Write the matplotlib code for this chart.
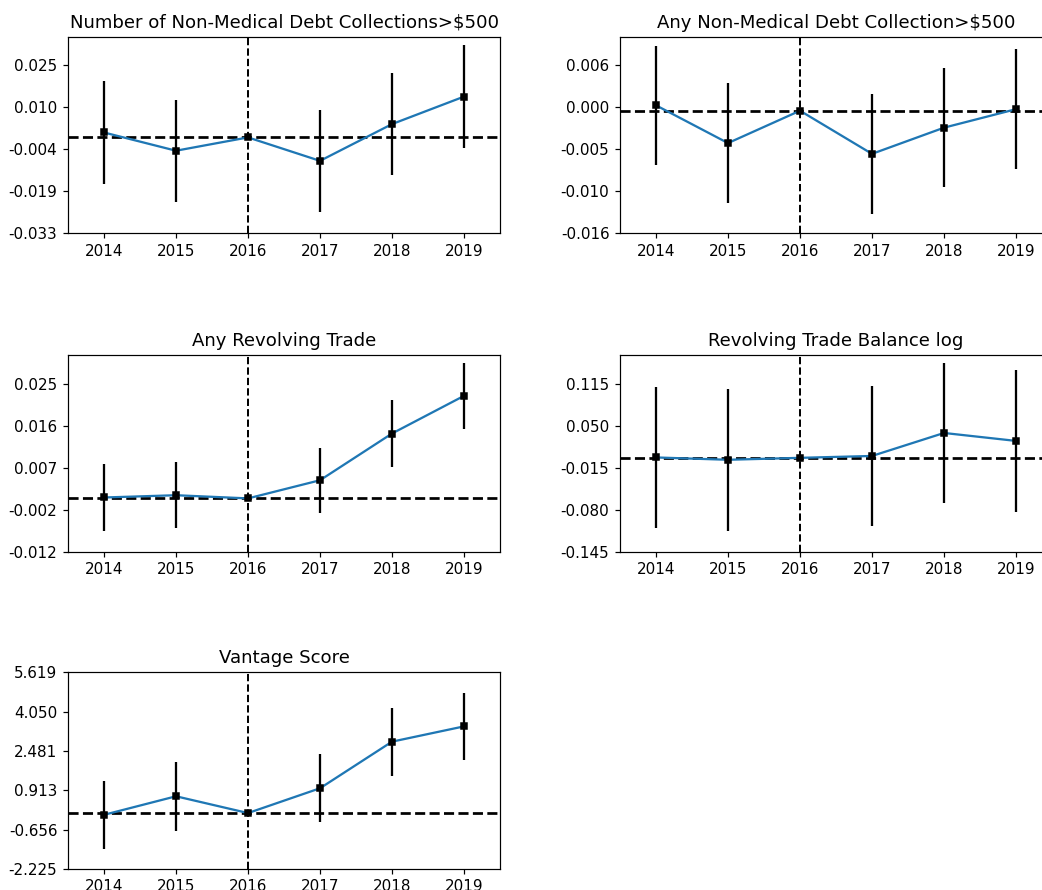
import numpy as np
import matplotlib.pyplot as plt

years = [2014, 2015, 2016, 2017, 2018, 2019]
base_year = 2016

titles = [
    "Number of Non-Medical Debt Collections>$500",
    "Any Non-Medical Debt Collection>$500",
    "Any Revolving Trade",
    "Revolving Trade Balance log",
    "Vantage Score",
]

# event-study coefficients and half-width of the confidence interval
coef_collections_n = [0.0017, -0.0046, 0.0, -0.0081, 0.0046, 0.0141]
err_collections_n = [0.0177, 0.0176, 0.0, 0.0177, 0.0175, 0.0177]

coef_collections_any = [0.0007, -0.0042, 0.0, -0.0056, -0.0022, 0.0002]
err_collections_any = [0.0077, 0.0078, 0.0, 0.0078, 0.0077, 0.0078]

coef_revolving_any = [0.0002, 0.0007, 0.0, 0.0040, 0.0143, 0.0226]
err_revolving_any = [0.0073, 0.0073, 0.0, 0.0072, 0.0073, 0.0072]

coef_revolving_bal = [0.0006, -0.0030, 0.0, 0.0029, 0.0385, 0.0262]
err_revolving_bal = [0.1090, 0.1095, 0.0, 0.1088, 0.1085, 0.1093]

coef_vantage = [-0.07, 0.67, 0.0, 0.99, 2.85, 3.46]
err_vantage = [1.36, 1.38, 0.0, 1.36, 1.36, 1.35]

coefs = [coef_collections_n, coef_collections_any, coef_revolving_any,
         coef_revolving_bal, coef_vantage]
errs = [err_collections_n, err_collections_any, err_revolving_any,
        err_revolving_bal, err_vantage]

# y tick range (6 evenly spaced ticks) and upper y limit of each panel
tick_lo = [-0.0331, -0.0159, -0.0117, -0.145, -2.225]
tick_hi = [0.0394, 0.01135, 0.03455, 0.180, 5.619]
y_top = [0.0348, 0.00961, 0.0316, 0.1592, 5.619]

W, H, DPI = 1042, 890, 109
fig, axes = plt.subplots(3, 2, figsize=(W / DPI, H / DPI), dpi=DPI)
axes = axes.ravel()
axes[5].remove()

# axes boxes in pixels; the right column runs past the figure edge
col_x = [68, 620]
row_top = [36.7, 355, 672.3]
ax_w, ax_h = 432, 196.5

for i in range(5):
    ax = axes[i]
    r, c = divmod(i, 2)
    ax.set_position([col_x[c] / W, 1 - (row_top[r] + ax_h) / H, ax_w / W, ax_h / H])
    if c == 1:
        ax.spines['right'].set_visible(False)

    ax.plot(years, coefs[i], color='C0', lw=1.5, zorder=2)
    ax.errorbar(years, coefs[i], yerr=errs[i], fmt='s', color='black',
                ms=3.5, elinewidth=1.5, capsize=0, zorder=3)
    ax.axhline(0, color='black', ls='--', lw=1.8, zorder=1)
    ax.axvline(base_year, color='black', ls='--', lw=1.3, zorder=1)

    ticks = np.linspace(tick_lo[i], tick_hi[i], 6)
    ax.set_yticks(ticks)
    ax.set_yticklabels(['%.3f' % t for t in ticks])
    ax.set_ylim(tick_lo[i], y_top[i])
    ax.set_xticks(years)
    ax.set_xlim(years[0] - 0.5, years[-1] + 0.5)
    ax.set_title(titles[i], fontsize=12)

plt.savefig('out.png', dpi=DPI)
